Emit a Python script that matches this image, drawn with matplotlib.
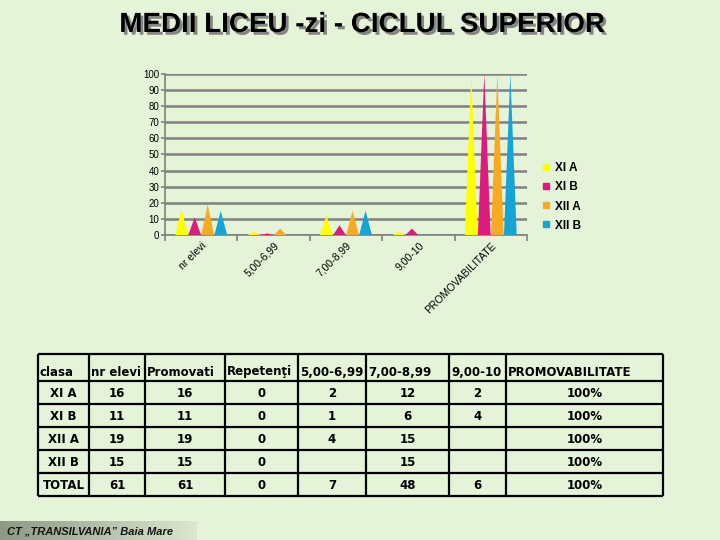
import numpy as np
import matplotlib.pyplot as plt
import matplotlib.patheffects as pe
from matplotlib.lines import Line2D

# chart data
categories = ['nr elevi', '5,00-6,99', '7,00-8,99', '9,00-10', 'PROMOVABILITATE']
series = ['XI A', 'XI B', 'XII A', 'XII B']
xi_a = [16, 2, 12, 2, 100]
xi_b = [11, 1, 6, 4, 100]
xii_a = [19, 4, 15, 0, 100]
xii_b = [15, 0, 15, 0, 100]
colors = ['#FFFF00', '#DC1C7C', '#F7AA22', '#14A4D6']

# table data
headers = ['clasa', 'nr elevi', 'Promovati', 'Repetenţi', '5,00-6,99',
           '7,00-8,99', '9,00-10', 'PROMOVABILITATE']
clasa = ['XI A', 'XI B', 'XII A', 'XII B', 'TOTAL']
nr_elevi = ['16', '11', '19', '15', '61']
promovati = ['16', '11', '19', '15', '61']
repetenti = ['0', '0', '0', '0', '0']
medii_5 = ['2', '1', '4', '', '7']
medii_7 = ['12', '6', '15', '15', '48']
medii_9 = ['2', '4', '', '', '6']
promovabilitate = ['100%', '100%', '100%', '100%', '100%']

bg = '#E5F4D8'
grid_col = '#808080'

fig = plt.figure(figsize=(7.2, 5.4), dpi=100)
fig.patch.set_facecolor(bg)

# overlay in pixel coordinates for title, table and footer
ov = fig.add_axes([0, 0, 1, 1])
ov.set_xlim(0, 720)
ov.set_ylim(540, 0)
ov.axis('off')
ov.patch.set_alpha(0)

# ---- chart ----
ax = fig.add_axes([165 / 720, 1 - 235 / 540, 362 / 720, 161 / 540])
ax.patch.set_alpha(0)
values = [xi_a, xi_b, xii_a, xii_b]
offsets = [-0.27, -0.09, 0.09, 0.27]
half_w = 0.088
for vals, off, col in zip(values, offsets, colors):
    for i, v in enumerate(vals):
        xc = i + 0.5 + off
        if v > 0:
            ax.fill([xc - half_w, xc, xc + half_w], [0, v, 0], color=col,
                    lw=0, zorder=3)

ax.set_xlim(0, 5)
ax.set_ylim(0, 100)
ax.set_yticks(np.arange(0, 101, 10))
ax.yaxis.grid(True, color=grid_col, lw=1.8, zorder=1)
ax.set_axisbelow(True)
ax.tick_params(axis='y', labelsize=7, length=3, width=1.2, color=grid_col, pad=1)
ax.set_xticks(np.arange(len(categories)) + 0.5)
ax.set_xticklabels(categories, rotation=45, ha='right', rotation_mode='anchor',
                   fontsize=7.5, family='Liberation Sans')
ax.tick_params(axis='x', length=0, pad=4)
ax.set_xticks(np.arange(0, 6), minor=True)
ax.tick_params(axis='x', which='minor', length=4, width=1.2, color=grid_col)
for lab in ax.get_yticklabels():
    lab.set_family('Liberation Sans')
for s in ['top', 'right']:
    ax.spines[s].set_visible(False)
for s in ['left', 'bottom']:
    ax.spines[s].set_color(grid_col)
    ax.spines[s].set_linewidth(1.2)

handles = [Line2D([], [], marker='s', ls='', color=c, markersize=5) for c in colors]
leg = fig.legend(handles, series, loc='center left',
                 bbox_to_anchor=(529 / 720, 1 - 197 / 540), frameon=False,
                 prop={'family': 'Liberation Sans', 'weight': 'bold', 'size': 8.5},
                 handletextpad=0.3, labelspacing=0.6, handlelength=1.0)

# ---- title with shadow ----
title = 'MEDII LICEU -zi - CICLUL SUPERIOR'
ov.text(362, 25, title, ha='center', va='center', fontsize=20, weight='bold',
        family='Liberation Sans', color='black',
        path_effects=[pe.withSimplePatchShadow(offset=(2, -2),
                                               shadow_rgbFace='#7a7a7a',
                                               alpha=0.9)])

# ---- table ----
col_x = [38, 89, 145, 225, 298, 366, 449, 506, 663]
row_y = [354, 381, 404, 427, 450, 473, 496]
columns = [clasa, nr_elevi, promovati, repetenti, medii_5, medii_7, medii_9,
           promovabilitate]
lw = 1.6
ov.hlines(row_y, col_x[0], col_x[-1], color='black', lw=lw)
ov.vlines(col_x, row_y[0], row_y[-1], color='black', lw=lw)
for j, h in enumerate(headers):
    ov.text(col_x[j] + 2, 372, h, ha='left', va='center', fontsize=8.5,
            weight='bold', family='DejaVu Sans')
for j, col in enumerate(columns):
    xc = (col_x[j] + col_x[j + 1]) / 2
    for i, txt in enumerate(col):
        yc = (row_y[i + 1] + row_y[i + 2]) / 2
        ov.text(xc, yc + 1, txt, ha='center', va='center', fontsize=8.5,
                weight='bold', family='DejaVu Sans')

# ---- footer box with gradient ----
grad = np.linspace(0, 1, 256).reshape(1, -1)
left = np.array([0.55, 0.60, 0.52])
right = np.array([0.86, 0.91, 0.82])
img = left[None, None, :] * (1 - grad[..., None]) + right[None, None, :] * grad[..., None]
ov.imshow(img, extent=(0, 197, 540, 521), aspect='auto', zorder=1)
ov.text(7, 531, 'CT „TRANSILVANIA” Baia Mare', ha='left', va='center',
        fontsize=8, weight='bold', style='italic', family='Liberation Sans',
        color='#151515', zorder=2)
ov.set_xlim(0, 720)
ov.set_ylim(540, 0)

fig.savefig('out.png', dpi=100, facecolor=bg)
